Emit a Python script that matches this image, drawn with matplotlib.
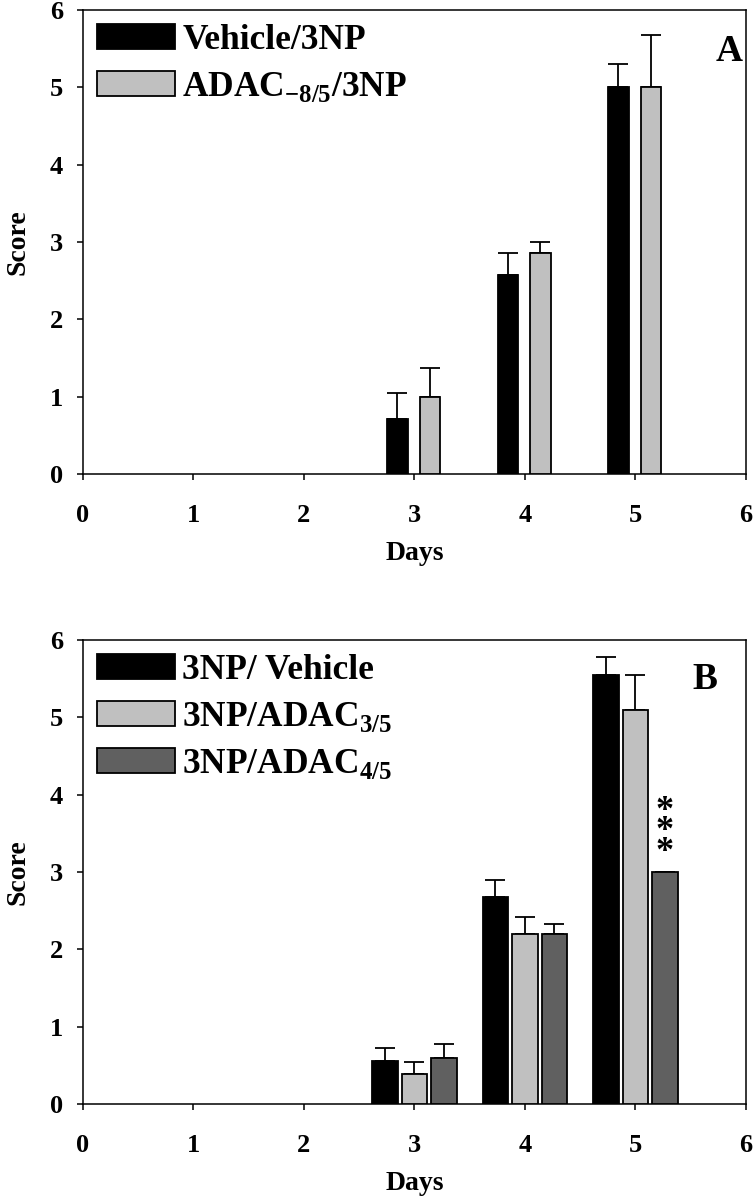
import numpy as np
import matplotlib.pyplot as plt
from matplotlib.patches import Patch

plt.rcParams['font.family'] = ['Liberation Serif', 'DejaVu Serif']
plt.rcParams['font.weight'] = 'bold'
plt.rcParams['mathtext.fontset'] = 'custom'
plt.rcParams['mathtext.rm'] = 'Liberation Serif:bold'
plt.rcParams['mathtext.bf'] = 'Liberation Serif:bold'

days = [3, 4, 5]

# panel A
a_labels = ['Vehicle/3NP', r'ADAC$_{\mathbf{-8/5}}$/3NP']
a_mean = [[0.71, 2.57, 5.0], [1.0, 2.86, 5.0]]
a_err = [[0.34, 0.29, 0.30], [0.37, 0.14, 0.67]]

# panel B
b_labels = ['3NP/ Vehicle', r'3NP/ADAC$_{\mathbf{3/5}}$', r'3NP/ADAC$_{\mathbf{4/5}}$']
b_mean = [[0.56, 2.68, 5.55], [0.39, 2.20, 5.10], [0.60, 2.20, 3.00]]
b_err = [[0.17, 0.22, 0.23], [0.15, 0.22, 0.45], [0.18, 0.13, 0.0]]

colors = ['#000000', '#c0c0c0', '#606060']

fig = plt.figure(figsize=(7.53, 11.99), dpi=100)
axA = fig.add_axes([0.1102, 0.6047, 0.8805, 0.387])
axB = fig.add_axes([0.1102, 0.0792, 0.8805, 0.387])


def draw_panel(ax, means, errs, labels, offsets, width, letter, lx, ly):
    for i, (m, e) in enumerate(zip(means, errs)):
        x = np.array(days) + offsets[i]
        ax.bar(x, m, width=width, color=colors[i], edgecolor='black',
               linewidth=1.3, zorder=3)
        ax.errorbar(x, m, yerr=[np.zeros(len(e)), e], fmt='none', ecolor='black',
                    elinewidth=1.3, capsize=7, capthick=1.3, zorder=2)
    ax.set_xlim(0, 6)
    ax.set_ylim(0, 6)
    ax.set_xticks(range(7))
    ax.set_yticks(range(7))
    ax.tick_params(direction='out', length=4.5, width=1.1, labelsize=19)
    ax.tick_params(axis='x', pad=17)
    ax.tick_params(axis='y', pad=10)
    for s in ax.spines.values():
        s.set_linewidth(1.1)
    ax.set_xlabel('Days', fontsize=20, fontweight='bold', labelpad=10)
    ax.set_ylabel('Score', fontsize=20, fontweight='bold', labelpad=14)
    handles = [Patch(facecolor=colors[i], edgecolor='black', linewidth=1.3)
               for i in range(len(labels))]
    ax.legend(handles, labels, loc='upper left', bbox_to_anchor=(0.0, 1.0),
              frameon=False, fontsize=25.5, handlelength=2.2, handleheight=0.7,
              handletextpad=0.2, labelspacing=0.36, borderaxespad=0.1,
              borderpad=0.3)
    ax.text(lx, ly, letter, fontsize=27, fontweight='bold', ha='center', va='center')


draw_panel(axA, a_mean, a_err, a_labels, [-0.154, 0.14], 0.185, 'A', 5.85, 5.46)
draw_panel(axB, b_mean, b_err, b_labels, [-0.267, 0.0, 0.267], 0.228, 'B', 5.63, 5.49)

# significance mark above ADAC 4/5 day 5
axB.text(5 + 0.267, b_mean[2][2] + 0.04, '*\n*\n*', fontsize=26, ha='center',
         va='bottom', linespacing=0.5)

fig.savefig('out.png', dpi=100)
